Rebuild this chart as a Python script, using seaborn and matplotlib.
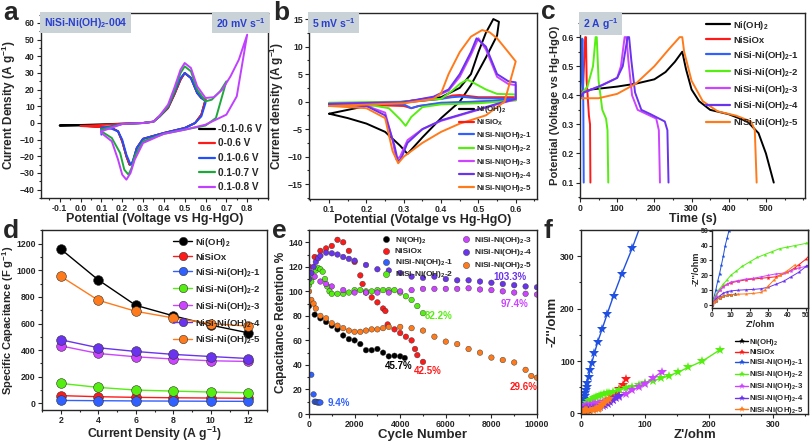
import numpy as np
import pandas as pd
import seaborn as sns
import matplotlib.pyplot as plt
from matplotlib.ticker import MultipleLocator

sns.set_style("ticks")
plt.rcParams["font.family"] = ["Liberation Sans", "DejaVu Sans"]
plt.rcParams["font.weight"] = "bold"
plt.rcParams["axes.labelweight"] = "bold"
plt.rcParams["mathtext.fontset"] = "custom"
plt.rcParams["mathtext.rm"] = "Liberation Sans:bold"
plt.rcParams["mathtext.it"] = "Liberation Sans:bold"
plt.rcParams["mathtext.bf"] = "Liberation Sans:bold"
plt.rcParams["mathtext.default"] = "rm"

# ---------------- data ----------------
# (a) CV of NiSi-Ni(OH)2-004 at 20 mV/s, different windows
a_labels = ["-0.1-0.6 V", "0-0.6 V", "0.1-0.6 V", "0.1-0.7 V", "0.1-0.8 V"]
a_colors = ["#000000", "#ff1a1a", "#1f4fff", "#1fa83a", "#c040ff"]
a_x = [
    [-0.1, 0.0, 0.1, 0.2, 0.3, 0.35, 0.38, 0.42, 0.45, 0.48, 0.5, 0.53, 0.56, 0.58, 0.6,
     0.6, 0.58, 0.55, 0.5, 0.4, 0.3, 0.27, 0.25, 0.235, 0.22, 0.2, 0.18, 0.15, 0.1, 0.0, -0.1],
    [0.0, 0.1, 0.2, 0.3, 0.35, 0.38, 0.42, 0.45, 0.48, 0.5, 0.53, 0.56, 0.58, 0.6,
     0.6, 0.58, 0.55, 0.5, 0.4, 0.3, 0.27, 0.25, 0.235, 0.22, 0.2, 0.18, 0.15, 0.1, 0.0],
    [0.1, 0.2, 0.3, 0.35, 0.38, 0.42, 0.45, 0.48, 0.5, 0.53, 0.56, 0.58, 0.6,
     0.6, 0.58, 0.55, 0.5, 0.4, 0.3, 0.27, 0.25, 0.24, 0.22, 0.2, 0.18, 0.15, 0.1, 0.1],
    [0.1, 0.2, 0.3, 0.35, 0.38, 0.42, 0.45, 0.48, 0.5, 0.53, 0.56, 0.6, 0.63, 0.67, 0.7,
     0.7, 0.65, 0.6, 0.5, 0.4, 0.3, 0.26, 0.245, 0.23, 0.21, 0.19, 0.15, 0.1, 0.1],
    [0.1, 0.2, 0.3, 0.35, 0.38, 0.42, 0.45, 0.48, 0.5, 0.53, 0.56, 0.6, 0.64, 0.68, 0.72, 0.76, 0.8,
     0.8, 0.75, 0.7, 0.6, 0.5, 0.4, 0.3, 0.26, 0.24, 0.22, 0.2, 0.18, 0.15, 0.1, 0.1],
]
a_y = [
    [-1.5, -1.2, -0.8, -0.4, 0.0, 0.8, 4, 9, 17, 26, 30, 27, 18, 15, 14,
     14, 5, 0, -3, -6, -9.5, -15, -24, -25, -20, -11, -5, -3, -2.5, -1.5, -1.5],
    [-1.8, -1.2, -0.4, 0.0, 0.8, 4, 9, 17, 26, 30, 27, 18, 15, 14,
     14, 5, 0, -3, -6, -9.5, -15, -24, -25, -20, -11, -5, -3, -2.5, -1.8],
    [-3, -0.6, 0.0, 0.8, 4, 9.5, 18, 27, 30, 27, 18, 15, 13,
     12, 4, 0, -3, -6, -9.5, -15, -23, -25, -19, -10, -5, -3.5, -3, -7],
    [-4, -0.6, 0.0, 0.8, 4, 10, 19, 30, 34, 31, 20, 13, 14, 19, 25,
     25, 3, -1.5, -4, -6.5, -11, -20, -27, -31, -28, -18, -9, -5, -4],
    [-5, -0.6, 0.0, 0.8, 4.5, 11, 21, 32, 36, 33, 22, 15, 15.5, 20, 28, 38, 53,
     53, 16, 5, -1, -4, -6.5, -12, -22, -30, -34, -31, -22, -11, -6, -5],
]

# (b) CV at 5 mV/s of all samples
b_labels = ["Ni(OH)$_2$", "NiSiO$_X$", "NiSi-Ni(OH)$_2$-1", "NiSi-Ni(OH)$_2$-2",
            "NiSi-Ni(OH)$_2$-3", "NiSi-Ni(OH)$_2$-4", "NiSi-Ni(OH)$_2$-5"]
b_x = [
    [0.1, 0.2, 0.3, 0.4, 0.45, 0.48, 0.5, 0.52, 0.54, 0.555,
     0.55, 0.52, 0.48, 0.45, 0.4, 0.35, 0.31, 0.29, 0.25, 0.2, 0.15, 0.1],
    [0.1, 0.3, 0.4, 0.43, 0.45, 0.5, 0.6, 0.6, 0.5, 0.4, 0.34, 0.32, 0.3, 0.2, 0.1],
    [0.1, 0.3, 0.4, 0.43, 0.45, 0.5, 0.6, 0.6, 0.5, 0.4, 0.34, 0.32, 0.3, 0.2, 0.1],
    [0.1, 0.3, 0.4, 0.43, 0.45, 0.47, 0.49, 0.52, 0.55, 0.6,
     0.6, 0.5, 0.4, 0.35, 0.32, 0.305, 0.29, 0.26, 0.2, 0.1],
    [0.1, 0.3, 0.38, 0.42, 0.45, 0.48, 0.5, 0.52, 0.55, 0.58, 0.6,
     0.6, 0.55, 0.5, 0.45, 0.4, 0.35, 0.31, 0.29, 0.28, 0.27, 0.25, 0.2, 0.1],
    [0.1, 0.3, 0.38, 0.42, 0.45, 0.48, 0.495, 0.52, 0.55, 0.58, 0.6,
     0.6, 0.55, 0.5, 0.45, 0.4, 0.35, 0.31, 0.295, 0.285, 0.275, 0.25, 0.2, 0.1],
    [0.1, 0.3, 0.38, 0.4, 0.42, 0.45, 0.48, 0.51, 0.53, 0.55, 0.58, 0.6,
     0.6, 0.57, 0.52, 0.45, 0.4, 0.35, 0.3, 0.285, 0.27, 0.25, 0.2, 0.1],
]
b_y = [
    [-2.2, -0.8, 0.0, 0.8, 2.5, 5, 9, 12.5, 15, 14.5,
     12, 8, 3, 0, -3, -6.5, -9.5, -8, -5.5, -4, -3, -2.2],
    [-0.5, -0.2, 0.5, 1.1, 1.2, 0.8, 0.8, 0.3, 0.0, -0.3, -0.8, -1.2, -0.8, -0.6, -0.5],
    [-0.3, -0.1, 0.5, 0.8, 0.9, 0.6, 0.5, 0.3, 0.0, -0.2, -0.8, -1.2, -0.5, -0.4, -0.3],
    [-0.2, 0.0, 0.5, 2, 3.2, 4, 3.3, 2.2, 1.4, 1.3,
     0.2, -0.3, -0.5, -1, -2.8, -4.4, -3.2, -1.2, -0.5, -0.3],
    [-0.4, -0.1, 0.8, 2, 4.5, 8.5, 11.5, 9.5, 4.5, 3.2, 3,
     0.4, -0.5, -1.5, -2.5, -3.5, -5, -7, -10, -10.5, -7, -2, -0.8, -0.5],
    [-0.4, -0.1, 0.9, 2.2, 5, 9, 11.5, 10, 5, 3.7, 3.5,
     0.5, -0.4, -1.4, -2.4, -3.4, -5, -7.5, -10, -11, -8, -2.5, -0.8, -0.5],
    [-0.8, -0.3, 0.5, 1.5, 5, 9, 11.8, 13, 12.6, 11.5, 9, 7.3,
     7.3, 0.0, -2.5, -4, -5.5, -7.5, -10, -11.2, -9, -3, -1.2, -0.8],
]
cmp_colors = ["#000000", "#ff1a1a", "#3060ff", "#55ee11", "#cc44ff", "#6a33ee", "#ff7a1a"]

# (c) GCD at 2 A/g
c_labels = ["Ni(OH)$_2$", "NiSiOx", "NiSi-Ni(OH)$_2$-1", "NiSi-Ni(OH)$_2$-2",
            "NiSi-Ni(OH)$_2$-3", "NiSi-Ni(OH)$_2$-4", "NiSi-Ni(OH)$_2$-5"]
c_t = [
    [0, 10, 30, 100, 150, 200, 230, 255, 275, 285, 300, 320, 350, 400, 450, 480, 500, 521],
    [0, 8, 14, 16, 18, 24, 27, 28],
    [0, 3, 6, 7, 9, 10],
    [0, 20, 35, 42, 45, 50, 60, 70, 74, 76],
    [0, 10, 50, 100, 110, 120, 125, 130, 140, 155, 180, 205, 212, 215],
    [0, 10, 60, 100, 115, 128, 132, 138, 148, 165, 190, 228, 235, 238],
    [0, 50, 100, 150, 200, 240, 268, 275, 280, 300, 330, 370, 420, 460, 470, 475],
]
c_v = [
    [0.40, 0.41, 0.42, 0.43, 0.44, 0.455, 0.48, 0.515, 0.55, 0.49, 0.42, 0.38, 0.35, 0.335, 0.31, 0.27, 0.2, 0.1],
    [0.40, 0.42, 0.6, 0.6, 0.45, 0.33, 0.30, 0.1],
    [0.39, 0.45, 0.595, 0.59, 0.35, 0.1],
    [0.40, 0.43, 0.5, 0.6, 0.6, 0.45, 0.35, 0.32, 0.28, 0.1],
    [0.40, 0.41, 0.43, 0.46, 0.5, 0.6, 0.6, 0.52, 0.4, 0.35, 0.335, 0.32, 0.28, 0.1],
    [0.39, 0.41, 0.435, 0.46, 0.5, 0.6, 0.6, 0.52, 0.41, 0.35, 0.335, 0.31, 0.28, 0.1],
    [0.39, 0.39, 0.405, 0.44, 0.5, 0.56, 0.6, 0.6, 0.55, 0.45, 0.38, 0.345, 0.33, 0.31, 0.28, 0.1],
]

# (d) rate capability
d_labels = ["Ni(OH)$_2$", "NiSiOx", "NiSi-Ni(OH)$_2$-1", "NiSi-Ni(OH)$_2$-2",
            "NiSi-Ni(OH)$_2$-3", "NiSi-Ni(OH)$_2$-4", "NiSi-Ni(OH)$_2$-5"]
d_current = [2, 4, 6, 8, 10, 12]
d_cap = [
    [1160, 928, 737, 658, 588, 530],
    [58, 50, 45, 42, 40, 38],
    [22, 20, 18, 17, 16, 15],
    [150, 120, 100, 92, 85, 80],
    [432, 375, 350, 333, 320, 315],
    [478, 418, 390, 368, 352, 337],
    [955, 775, 692, 642, 600, 580],
]

# (e) cycling stability
e_labels = d_labels
e_cycles = [
    [0, 250, 500, 750, 1000, 1250, 1500, 1750, 2000, 2250, 2500, 2750, 3000, 3250, 3500, 3750, 4000, 4200],
    [0, 250, 500, 750, 1000, 1250, 1500, 1750, 2000, 2250, 2350, 2500, 2750, 3000, 3250, 3350,
     3450, 3750, 4000, 4250, 4500, 4650, 4750, 5000],
    [0, 100, 200, 250, 300, 350, 400, 450, 500],
    [0, 100, 200, 300, 400, 500, 600, 700, 800, 900, 1000, 1250, 1500, 1750, 2000, 2250, 2500,
     2750, 3000, 3250, 3500, 3750, 4000, 4250, 4500, 4750, 5000],
    [0, 250, 500, 750, 1000, 1500, 2000, 2500, 3000, 3500, 4000, 4500, 5000, 5500, 6000,
     6500, 7000, 7500, 8000, 8500, 9000, 9500, 10000],
    [0, 100, 200, 300, 400, 500, 750, 1000, 1250, 1500, 1750, 2000, 2500, 3000, 3500, 4000,
     4500, 5000, 5500, 6000, 6500, 7000, 7500, 8000, 8500, 9000, 9500, 10000],
    [0, 100, 200, 300, 500, 750, 1000, 1250, 1500, 1750, 2000, 2250, 2500, 2750, 3000, 3250,
     3500, 4000, 4500, 5000, 5500, 6000, 6500, 7000, 7500, 8000, 8500, 9000, 9500, 9750, 10000],
]
e_retention = [
    [88, 81, 78, 75, 72, 69, 64, 61, 60, 57, 52, 52, 53, 50, 47, 47.5, 47, 45.7],
    [120, 128, 133, 135, 137, 142, 140, 133, 124, 113, 106, 99, 95, 91, 86, 84,
     73, 69, 66, 63, 60, 53, 48, 42.5],
    [110, 32, 16, 10, 10, 9.5, 9.4, 9.4, 9.4],
    [105, 108, 112, 117, 119, 118, 116, 110, 104, 100, 98, 98, 98, 99, 101, 101, 100,
     100, 101, 101, 101, 101, 99, 96, 93, 88, 82.2],
    [117, 112, 108, 106, 104, 101, 99, 99, 99, 99, 100, 101, 102, 102, 102,
     102, 102.5, 101.5, 101, 100, 99, 98, 97.4],
    [110, 115, 120, 124, 127, 129, 131.5, 131, 130, 128, 126.5, 125, 121.5, 118, 117, 115,
     112, 111, 112, 110, 109, 109, 108, 107, 106, 105, 104, 103.3],
    [100, 93, 90, 86, 80, 78, 74, 72, 70, 68, 67, 67, 68, 69, 69, 70,
     71, 71, 70, 68, 63, 59, 57, 53, 50, 46, 44, 42, 36, 31, 29.6],
]

# (f) Nyquist plots
f_labels = d_labels
f_zre = [
    [0, 2, 4, 6, 8, 10, 12],
    [0, 1, 2, 4, 6, 8, 10, 14, 18, 22, 26, 30, 34, 36, 40, 44, 46, 50, 55, 60, 65, 70],
    [0, 1, 2, 3, 4, 5, 6, 7, 8, 9, 10, 12, 14, 17, 21, 26, 33, 41, 51, 64, 80, 92],
    [0, 1, 2, 4, 6, 8, 10, 13, 16, 20, 24, 28, 32, 36, 40, 44, 50, 60, 70, 80, 90, 100,
     112, 125, 138, 152, 168, 190, 218],
    [0, 1, 2, 4, 6, 8, 10, 14, 18, 22, 26, 30, 34, 38, 42, 46, 50, 60, 70, 80, 90, 100, 112, 127],
    [0, 1, 2, 4, 6, 8, 10, 14, 18, 22, 26, 30, 34, 38, 42, 46, 50, 55, 60],
    [0, 1, 2, 4, 6, 8, 10, 14, 18, 22, 26, 28, 30, 33, 36, 40, 44],
]
f_zim = [
    [0, 3, 5, 6, 6.5, 7, 7.2],
    [0, 3, 6, 10, 12.5, 14, 15, 16, 17, 17.5, 18, 18.5, 19, 20, 22, 25, 27, 31, 38, 47, 55, 66],
    [0, 5, 10, 16, 21, 27, 33, 40, 45, 50, 58, 70, 82, 97, 115, 136, 161, 190, 225, 267, 315, 355],
    [0, 4, 7, 11, 14, 17, 20, 23, 26, 29, 32, 34, 36, 38, 39, 40, 41.5, 45, 48, 51, 54, 58,
     62, 67, 72, 79, 88, 100, 122],
    [0, 3, 6, 10, 12, 14, 15.5, 16.5, 17.5, 18, 19, 20, 21, 21.5, 23, 25, 26, 32, 38, 45, 50, 57, 67, 80],
    [0, 2, 4, 6, 8, 9, 9.5, 10, 10.3, 10.5, 11, 12, 14, 16, 19, 22, 26, 30, 34],
    [0, 2, 3, 5, 6, 6.5, 7, 7.3, 7.5, 7.8, 8.5, 10, 13, 17, 20, 23, 27],
]
f_colors = ["#000000", "#ff1a1a", "#2050e0", "#55ee11", "#cc44ff", "#6a33ee", "#ff7a1a"]


def long_df(labels, xs, ys):
    rows = []
    for lab, xx, yy in zip(labels, xs, ys):
        for i, (x, y) in enumerate(zip(xx, yy)):
            rows.append({"x": x, "y": y, "label": lab, "i": i})
    return pd.DataFrame(rows)


def style_axes(ax, xl, yl, xs=9, ys=8.5):
    for s in ax.spines.values():
        s.set_visible(True)
        s.set_linewidth(1.0)
    ax.tick_params(which="both", direction="out", labelsize=6.3, width=0.8, pad=1.5)
    ax.tick_params(which="major", length=3)
    ax.tick_params(which="minor", length=1.5)
    for t in ax.get_xticklabels() + ax.get_yticklabels():
        t.set_fontweight("bold")
    ax.set_xlabel(xl, fontsize=xs, labelpad=0)
    ax.set_ylabel(yl, fontsize=ys, labelpad=1)


def tag_box(ax, x, y, text, ha):
    ax.text(x, y, text, transform=ax.transAxes, ha=ha, va="top", fontsize=7.5,
            color="#2a3fd0", fontweight="bold",
            bbox=dict(boxstyle="square,pad=0.35", fc="#c9d2d6", ec="none"))


def line_legend(ax, labels, colors, loc, fs, spacing, hl=2.0):
    for lab, col in zip(labels, colors):
        ax.plot([], [], color=col, lw=1.6, label=lab)
    ax.legend(loc=loc, frameon=False, fontsize=fs, handlelength=hl, labelspacing=spacing,
              borderaxespad=0.2, handletextpad=0.3)


fig = plt.figure(figsize=(8.1, 4.43), dpi=100)
W, H = 810, 443


def add_ax(l, t, r, b):
    return fig.add_axes([l / W, 1 - b / H, (r - l) / W, (b - t) / H])


# ---- a ----
ax = add_ax(41, 13, 268, 198)
df = long_df(a_labels, a_x, a_y)
sns.lineplot(data=df, x="x", y="y", hue="label", hue_order=a_labels, palette=a_colors,
             sort=False, estimator=None, units="label", lw=1.4, ax=ax, legend=False)
line_legend(ax, a_labels, a_colors, "lower right", 7.2, 0.45, hl=1.6)
ax.set_xlim(-0.19, 0.9)
ax.set_ylim(-45, 66)
ax.xaxis.set_minor_locator(MultipleLocator(0.05))
ax.yaxis.set_major_locator(MultipleLocator(10))
ax.yaxis.set_minor_locator(MultipleLocator(5))
ax.set_xticks(np.round(np.arange(-0.1, 0.81, 0.1), 1))
ax.set_xticklabels(["-0.1", "0.0", "0.1", "0.2", "0.3", "0.4", "0.5", "0.6", "0.7", "0.8"])
style_axes(ax, "Potential (Voltage vs Hg-HgO)", "Current Density (A g$^{-1}$)")
tag_box(ax, 0.012, 0.985, "NiSi-Ni(OH)$_2$-004", "left")
tag_box(ax, 0.988, 0.985, "20 mV s$^{-1}$", "right")

# ---- b ----
ax = add_ax(309, 13, 537, 199)
df = long_df(b_labels, b_x, b_y)
sns.lineplot(data=df, x="x", y="y", hue="label", hue_order=b_labels, palette=cmp_colors,
             sort=False, estimator=None, units="label", lw=1.4, ax=ax, legend=False)
line_legend(ax, b_labels, cmp_colors, "lower right", 5.8, 0.28, hl=1.8)
ax.set_xlim(0.046, 0.657)
ax.set_ylim(-17.7, 16.1)
ax.xaxis.set_major_locator(MultipleLocator(0.1))
ax.xaxis.set_minor_locator(MultipleLocator(0.05))
ax.yaxis.set_major_locator(MultipleLocator(5))
ax.yaxis.set_minor_locator(MultipleLocator(2.5))
style_axes(ax, "Potential (Votalge vs Hg-HgO)", "Current density (A g$^{-1}$)")
tag_box(ax, 0.012, 0.985, "5 mV s$^{-1}$", "left")

# ---- c ----
ax = add_ax(580, 13, 805, 198)
df = long_df(c_labels, c_t, c_v)
sns.lineplot(data=df, x="x", y="y", hue="label", hue_order=c_labels, palette=cmp_colors,
             sort=False, estimator=None, units="label", lw=1.4, ax=ax, legend=False)
line_legend(ax, c_labels, cmp_colors, "upper right", 6.8, 0.42, hl=2.6)
ax.set_xlim(0, 605)
ax.set_ylim(0.047, 0.683)
ax.set_xticks([0, 100, 200, 300, 400, 500])
ax.xaxis.set_minor_locator(MultipleLocator(50))
ax.yaxis.set_major_locator(MultipleLocator(0.1))
ax.yaxis.set_minor_locator(MultipleLocator(0.05))
style_axes(ax, "Time (s)", "Potential (Voltage vs Hg-HgO)", ys=8.1)
tag_box(ax, 0.012, 0.985, "2 A g$^{-1}$", "left")

# ---- d ----
ax = add_ax(42, 230, 267, 410)
df = long_df(d_labels, [d_current] * len(d_labels), d_cap)
sns.lineplot(data=df, x="x", y="y", hue="label", hue_order=d_labels, palette=cmp_colors,
             marker="o", markersize=7, markeredgecolor="#303030", markeredgewidth=0.4,
             lw=1.0, ax=ax, legend=False)
for lab, col in zip(d_labels, cmp_colors):
    ax.plot([], [], color=col, lw=1.0, marker="o", ms=6, mec="#303030", mew=0.4, label=lab)
ax.legend(loc="upper right", frameon=False, fontsize=6.8, handlelength=2.0,
          labelspacing=0.42, borderaxespad=0.2, handletextpad=0.3)
ax.set_xlim(1, 13)
ax.set_ylim(-50, 1303)
ax.xaxis.set_major_locator(MultipleLocator(2))
ax.xaxis.set_minor_locator(MultipleLocator(1))
ax.yaxis.set_major_locator(MultipleLocator(200))
ax.yaxis.set_minor_locator(MultipleLocator(100))
style_axes(ax, "Current Density (A g$^{-1}$)", "Specific Capacitance (F g$^{-1}$)", xs=8.8, ys=8)
ax.yaxis.labelpad = 0

# ---- e ----
ax = add_ax(309, 230, 537, 414)
df = long_df(e_labels, e_cycles, e_retention)
sns.scatterplot(data=df, x="x", y="y", hue="label", hue_order=e_labels, palette=cmp_colors,
                s=16, edgecolor="#333333", linewidth=0.3, ax=ax, legend=False)
for lab, col in zip(e_labels, cmp_colors):
    ax.scatter([], [], color=col, s=20, edgecolor="#333333", linewidth=0.3, label=lab)
ax.legend(loc="upper right", ncol=2, columnspacing=0.5, handletextpad=0.0,
          frameon=False, fontsize=6.0, labelspacing=0.2, borderaxespad=0.15)
ax.set_xlim(0, 10000)
ax.set_ylim(0, 150)
ax.xaxis.set_major_locator(MultipleLocator(2000))
ax.xaxis.set_minor_locator(MultipleLocator(1000))
ax.yaxis.set_major_locator(MultipleLocator(20))
ax.yaxis.set_minor_locator(MultipleLocator(10))
style_axes(ax, "Cycle Number", "Capacitance Retention %", xs=9.5)
for txt, x, y, col in [("45.7%", 3950, 39, "#000000"), ("42.5%", 5200, 35, "#ff1a1a"),
                       ("29.6%", 9400, 22, "#ff1a1a"), ("9.4%", 1300, 9, "#3060ff"),
                       ("82.2%", 5700, 80, "#55ee11"), ("103.3%", 8800, 112, "#6a33ee"),
                       ("97.4%", 9000, 90, "#cc44ff")]:
    ax.text(x, y, txt, color=col, fontsize=7, fontweight="bold", ha="center", va="center")

# ---- f ----
ax = add_ax(581, 230, 808, 414)
df = long_df(f_labels, f_zre, f_zim)
sns.lineplot(data=df, x="x", y="y", hue="label", hue_order=f_labels, palette=f_colors,
             sort=False, estimator=None, units="label", marker="*", markersize=7,
             markeredgewidth=0, lw=1.0, ax=ax, legend=False)
for lab, col in zip(f_labels, f_colors):
    ax.plot([], [], color=col, lw=1.0, marker="*", ms=5, mew=0, label=lab)
ax.legend(loc="lower right", bbox_to_anchor=(1.0, -0.035), frameon=False, fontsize=5.6,
          handlelength=1.6, labelspacing=0.12, borderaxespad=0.15, handletextpad=0.2)
ax.set_xlim(0, 355)
ax.set_ylim(-1, 350)
ax.xaxis.set_major_locator(MultipleLocator(100))
ax.xaxis.set_minor_locator(MultipleLocator(50))
ax.yaxis.set_major_locator(MultipleLocator(100))
ax.yaxis.set_minor_locator(MultipleLocator(50))
style_axes(ax, "Z'/ohm", "-Z''/ohm", xs=9.5, ys=9.5)

# inset
ins = add_ax(712, 230, 808, 308)
sns.lineplot(data=df, x="x", y="y", hue="label", hue_order=f_labels, palette=f_colors,
             sort=False, estimator=None, units="label", marker="*", markersize=3,
             markeredgewidth=0, lw=0.7, ax=ins, legend=False)
ins.set_xlim(0, 51)
ins.set_ylim(-2, 50.5)
ins.xaxis.set_major_locator(MultipleLocator(10))
ins.yaxis.set_major_locator(MultipleLocator(10))
style_axes(ins, "Z'/ohm", "-Z''/ohm", xs=6.5, ys=6.5)
ins.tick_params(labelsize=5.0, length=2, pad=0.8)
ins.xaxis.labelpad = 0.5
ins.yaxis.labelpad = 0

# panel letters
for letter, x, y in [("a", 3, 1), ("b", 273, 1), ("c", 541, 0),
                     ("d", 3, 219), ("e", 272, 219), ("f", 543, 219)]:
    fig.text(x / W, 1 - y / H, letter, fontsize=19, fontweight="bold", va="top", ha="left")

fig.savefig("out.png", dpi=100)
